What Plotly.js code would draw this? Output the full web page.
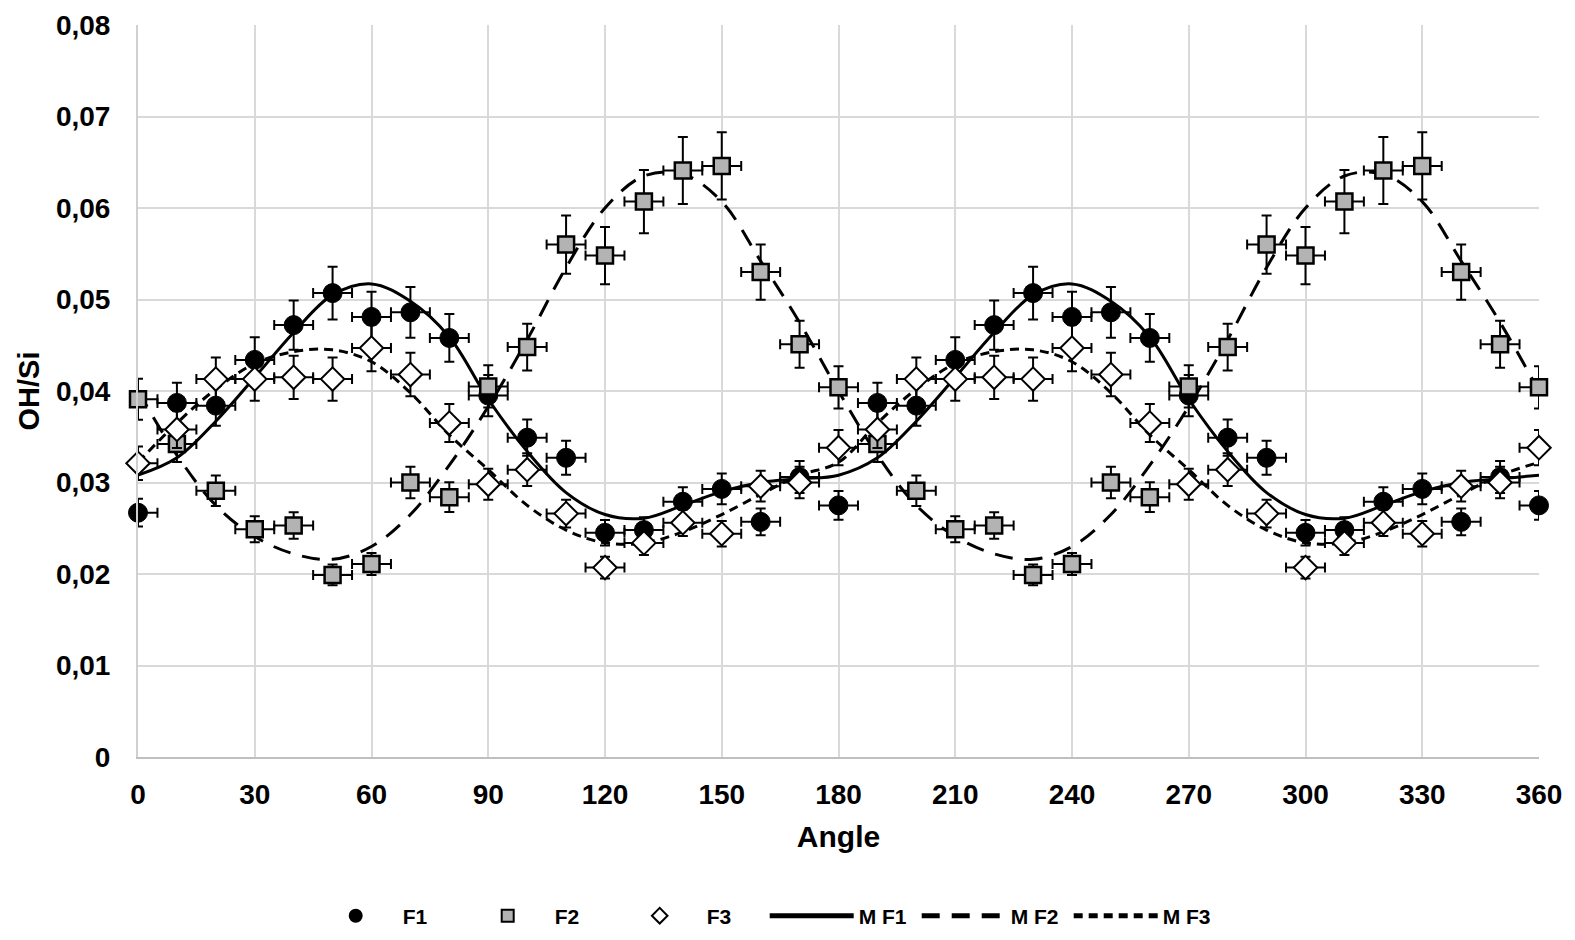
<!DOCTYPE html>
<html>
<head>
<meta charset="utf-8">
<script src="https://cdn.plot.ly/plotly-3.0.1.min.js"></script>
<style>html,body{margin:0;padding:0;background:#fff;}#chart{width:1575px;height:940px;}</style>
</head>
<body>
<div id="chart"></div>
<script>
// Angles (degrees)
const angle = [0,10,20,30,40,50,60,70,80,90,100,110,120,130,140,150,160,170,180,
  190,200,210,220,230,240,250,260,270,280,290,300,310,320,330,340,350,360];

// Measured series
const F1 = [0.0267,0.0387,0.0384,0.0434,0.0472,0.0507,0.0481,0.0486,0.0458,0.0395,0.0349,0.0327,0.0245,0.0248,0.0279,0.0293,0.0257,0.0306,0.0275,
  0.0387,0.0384,0.0434,0.0472,0.0507,0.0481,0.0486,0.0458,0.0395,0.0349,0.0327,0.0245,0.0248,0.0279,0.0293,0.0257,0.0306,0.0275];
const F2 = [0.0391,0.0342,0.0291,0.0249,0.0253,0.0199,0.0211,0.0300,0.0284,0.0405,0.0448,0.0560,0.0548,0.0607,0.0641,0.0646,0.0530,0.0451,0.0404,
  0.0342,0.0291,0.0249,0.0253,0.0199,0.0211,0.0300,0.0284,0.0405,0.0448,0.0560,0.0548,0.0607,0.0641,0.0646,0.0530,0.0451,0.0404];
const F3 = [0.0321,0.0358,0.0413,0.0413,0.0415,0.0413,0.0447,0.0418,0.0365,0.0298,0.0314,0.0266,0.0207,0.0234,0.0256,0.0244,0.0296,0.0300,0.0338,
  0.0358,0.0413,0.0413,0.0415,0.0413,0.0447,0.0418,0.0365,0.0298,0.0314,0.0266,0.0207,0.0234,0.0256,0.0244,0.0296,0.0300,0.0338];

// Model curves
const MF1 = [0.0308,0.0327,0.0367,0.0415,0.0464,0.0505,0.0517,0.0498,0.0459,0.0391,0.0334,0.0289,0.0265,0.0261,0.0275,0.0290,0.0300,0.0304,0.0308,
  0.0327,0.0367,0.0415,0.0464,0.0505,0.0517,0.0498,0.0459,0.0391,0.0334,0.0289,0.0265,0.0261,0.0275,0.0290,0.0300,0.0304,0.0308];
const MF2 = [0.0400,0.0330,0.0275,0.0241,0.0222,0.0216,0.0230,0.0265,0.0319,0.0383,0.0456,0.0535,0.0600,0.0635,0.0637,0.0607,0.0542,0.0475,0.0400,
  0.0330,0.0275,0.0241,0.0222,0.0216,0.0230,0.0265,0.0319,0.0383,0.0456,0.0535,0.0600,0.0635,0.0637,0.0607,0.0542,0.0475,0.0400];
const MF3 = [0.0322,0.0365,0.0402,0.0430,0.0443,0.0445,0.0432,0.0398,0.0352,0.0314,0.0275,0.0248,0.0234,0.0234,0.0246,0.0265,0.0287,0.0308,0.0322,
  0.0365,0.0402,0.0430,0.0443,0.0445,0.0432,0.0398,0.0352,0.0314,0.0275,0.0248,0.0234,0.0234,0.0246,0.0265,0.0287,0.0308,0.0322];

const seriesNames = ['F1','F2','F3','M F1','M F2','M F3'];
const xTicks = [0,30,60,90,120,150,180,210,240,270,300,330,360];
const yTicks = [0,0.01,0.02,0.03,0.04,0.05,0.06,0.07,0.08];
const yTickText = ['0','0,01','0,02','0,03','0,04','0,05','0,06','0,07','0,08'];

const errY = {type:'percent', value:5.7, color:'#000', thickness:2, width:5};
const errX = {type:'constant', value:5, color:'#000', thickness:2, width:5};

function model(y, name, dash, rank){
  return {x:angle, y:y, name:name, mode:'lines', legendrank:rank,
    line:{color:'#000', width:3, dash:dash, shape:'spline', smoothing:1}};
}
function meas(y, name, marker, rank){
  return {x:angle, y:y, name:name, mode:'markers', legendrank:rank, cliponaxis:false,
    marker:marker, error_y:errY, error_x:errX};
}

const data = [
  model(MF1, seriesNames[3], 'solid', 4),
  model(MF2, seriesNames[4], '18px,12px', 5),
  model(MF3, seriesNames[5], '9px,6px', 6),
  meas(F1, seriesNames[0], {symbol:'circle', size:19, color:'#000', line:{color:'#000', width:1}}, 1),
  meas(F2, seriesNames[1], {symbol:'square', size:16, color:'#b3b3b3', line:{color:'#000', width:2.5}}, 2),
  meas(F3, seriesNames[2], {symbol:'diamond', size:18, color:'#fff', line:{color:'#000', width:2}}, 3)
];

const FAM = 'Arial, "Liberation Sans", sans-serif';
const tickFont = {family:FAM, size:28, color:'#000', weight:'bold'};
const layout = {
  width:1575, height:940,
  paper_bgcolor:'#fff', plot_bgcolor:'#fff',
  margin:{l:138, r:36, t:25, b:183, autoexpand:false},
  showlegend:true,
  xaxis:{range:[0,360], tickvals:xTicks, showgrid:true, gridcolor:'#d9d9d9', gridwidth:2,
    zeroline:false, showline:true, linecolor:'#bfbfbf', linewidth:2, ticks:'', automargin:false,
    ticklabelstandoff:11, tickfont:tickFont,
    title:{text:'Angle', standoff:17, font:{family:FAM, size:30, color:'#000', weight:'bold'}}},
  yaxis:{range:[0,0.08], tickvals:yTicks, ticktext:yTickText, showgrid:true, gridcolor:'#d9d9d9', gridwidth:2,
    zeroline:false, showline:true, linecolor:'#d0d0d0', linewidth:2, ticks:'', automargin:false,
    ticklabelstandoff:20, tickfont:tickFont,
    title:{text:'OH/Si', standoff:8, font:{family:FAM, size:29, color:'#000', weight:'bold'}}},
  legend:{orientation:'h', xref:'container', x:0.196, xanchor:'left', yref:'container', y:0.0255, yanchor:'middle',
    itemsizing:'constant', itemwidth:84, entrywidth:53, traceorder:'normal',
    font:{family:FAM, size:21, color:'#000', weight:'bold'}}
};

Plotly.newPlot('chart', data, layout, {displayModeBar:false, staticPlot:true});
</script>
</body>
</html>
